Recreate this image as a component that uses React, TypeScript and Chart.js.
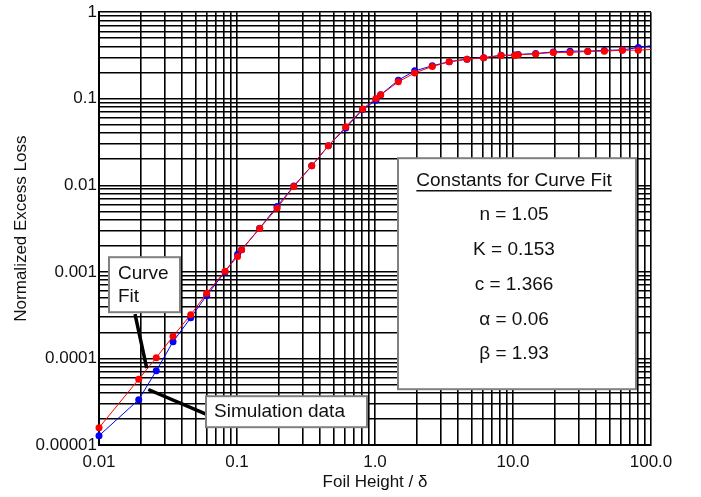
import React, { useEffect, useRef } from 'react';
import { Chart, registerables } from 'chart.js';

Chart.register(...registerables);

// ---- Data ----
const foilHeight = [
  0.01, 0.0194, 0.026, 0.0344, 0.0462, 0.0603, 0.0819, 0.101, 0.108, 0.146, 0.195,
  0.258, 0.348, 0.459, 0.614, 0.814, 1.016, 1.099, 1.475, 1.94, 2.6, 3.45, 4.64,
  6.13, 8.19, 10.3, 10.9, 14.6, 19.6, 25.9, 34.8, 45.9, 62, 80.9, 108,
];
const curveFit = [
  1.58e-5, 5.74e-5, 1.02e-4, 1.8e-4, 3.2e-4, 5.65e-4, 1.02e-3, 1.51e-3, 1.8e-3, 3.18e-3, 5.45e-3,
  9.7e-3, 0.0168, 0.0286, 0.0474, 0.0764, 0.1007, 0.111, 0.157, 0.199, 0.236, 0.267, 0.287,
  0.297, 0.316, 0.316, 0.322, 0.33, 0.343, 0.343, 0.352, 0.355, 0.364, 0.364, 0.374,
];
const simulation = [
  1.28e-5, 3.34e-5, 7.2e-5, 1.56e-4, 2.95e-4, 5.35e-4, 1.0e-3, 1.6e-3, 1.8e-3, 3.2e-3, 5.7e-3,
  9.8e-3, 0.0168, 0.0286, 0.046, 0.075, 0.096, 0.111, 0.164, 0.21, 0.24, 0.268, 0.287,
  0.298, 0.318, 0.32, 0.325, 0.333, 0.348, 0.355, 0.355, 0.362, 0.367, 0.39, 0.418,
];

const xTickValues = [0.01, 0.1, 1, 10, 100];
const xTickLabels = ['0.01', '0.1', '1.0', '10.0', '100.0'];
const yTickValues = [0.00001, 0.0001, 0.001, 0.01, 0.1, 1];
const yTickLabels = ['0.00001', '0.0001', '0.001', '0.01', '0.1', '1'];

const xTitle = 'Foil Height / δ';
const yTitle = 'Normalized Excess Loss';
const constantsTitle = 'Constants for Curve Fit';
const constantsLines = ['n = 1.05', 'K = 0.153', 'c = 1.366', 'α = 0.06', 'β = 1.93'];
const curveFitLabel = ['Curve', 'Fit'];
const simulationLabel = 'Simulation data';

const FONT = '"Liberation Sans", Arial, Helvetica, sans-serif';
const RED = '#ff0000';
const BLUE = '#0000ff';

function logGridTicks(majors: number[]) {
  const out: { value: number }[] = [];
  for (let i = 0; i < majors.length - 1; i++) {
    for (let k = 1; k <= 9; k++) out.push({ value: majors[i] * k });
  }
  out.push({ value: majors[majors.length - 1] });
  return out;
}

function labelFor(value: number, majors: number[], labels: string[]) {
  for (let i = 0; i < majors.length; i++) {
    if (Math.abs(Math.log10(value) - Math.log10(majors[i])) < 1e-6) return labels[i];
  }
  return '';
}

const annotationPlugin = {
  id: 'annotations',
  afterDraw(chart: any) {
    const { ctx, chartArea } = chart;
    const L = chartArea.left;
    const T = chartArea.top;
    ctx.save();

    // callout lines
    ctx.strokeStyle = '#000';
    ctx.lineWidth = 3.5;
    ctx.lineCap = 'butt';
    ctx.beginPath();
    ctx.moveTo(L + 36, T + 302);
    ctx.lineTo(L + 47.7, T + 356);
    ctx.moveTo(L + 49.3, T + 377.3);
    ctx.lineTo(L + 107, T + 402);
    ctx.stroke();

    const box = (x: number, y: number, w: number, h: number) => {
      ctx.fillStyle = '#fff';
      ctx.fillRect(L + x, T + y, w, h);
      ctx.strokeStyle = '#808080';
      ctx.lineWidth = 2;
      ctx.strokeRect(L + x, T + y, w, h);
    };

    ctx.font = `19px ${FONT}`;
    ctx.textBaseline = 'middle';

    // Curve Fit box
    box(10, 245, 71, 55);
    ctx.fillStyle = '#111';
    ctx.textAlign = 'left';
    ctx.fillText(curveFitLabel[0], L + 19, T + 262);
    ctx.fillText(curveFitLabel[1], L + 19, T + 285);

    // Simulation data box
    box(107, 384, 161, 31);
    ctx.fillStyle = '#111';
    ctx.fillText(simulationLabel, L + 115, T + 400);

    // Constants box
    box(299, 146, 238, 231);
    ctx.fillStyle = '#111';
    ctx.textAlign = 'center';
    const cx = L + 415;
    ctx.fillText(constantsTitle, cx, T + 169);
    const tw = ctx.measureText(constantsTitle).width;
    ctx.strokeStyle = '#111';
    ctx.lineWidth = 1.5;
    ctx.beginPath();
    ctx.moveTo(cx - tw / 2, T + 178.5);
    ctx.lineTo(cx + tw / 2, T + 178.5);
    ctx.stroke();
    const ys = [203, 238, 273, 308, 342];
    constantsLines.forEach((s, i) => ctx.fillText(s, cx, T + ys[i]));

    ctx.restore();
  },
};

export default function App() {
  const ref = useRef<HTMLCanvasElement | null>(null);

  useEffect(() => {
    if (!ref.current) return;
    const chart = new Chart(ref.current, {
      type: 'scatter',
      data: {
        datasets: [
          {
            label: 'Curve Fit',
            data: foilHeight.map((x, i) => ({ x, y: curveFit[i] })),
            borderColor: RED,
            backgroundColor: RED,
            borderWidth: 1,
            pointRadius: 3.5,
            pointBorderWidth: 0,
            pointHoverRadius: 3.5,
            showLine: true,
            clip: { left: 6, top: 0, right: 0, bottom: 6 } as any,
          },
          {
            label: 'Simulation data',
            data: foilHeight.map((x, i) => ({ x, y: simulation[i] })),
            borderColor: BLUE,
            backgroundColor: BLUE,
            borderWidth: 1,
            pointRadius: 3.5,
            pointBorderWidth: 0,
            pointHoverRadius: 3.5,
            showLine: true,
            clip: { left: 6, top: 0, right: 0, bottom: 6 } as any,
          },
        ],
      },
      options: {
        responsive: false,
        animation: false,
        events: [],
        layout: { padding: { left: 0, top: 12, right: 50, bottom: 0 } },
        plugins: { legend: { display: false }, tooltip: { enabled: false } },
        scales: {
          x: {
            type: 'logarithmic',
            min: 0.01,
            max: 100,
            afterBuildTicks: (scale: any) => {
              scale.ticks = logGridTicks(xTickValues);
            },
            afterFit: (scale: any) => {
              scale.height = 52;
            },
            ticks: {
              autoSkip: false,
              maxRotation: 0,
              minRotation: 0,
              padding: 7,
              color: '#111',
              font: { family: FONT, size: 17 },
              callback: (v: any) => labelFor(Number(v), xTickValues, xTickLabels),
            },
            grid: { color: '#000', lineWidth: 1.6, drawTicks: false },
            border: { color: '#000', width: 2 },
            title: {
              display: true,
              text: xTitle,
              color: '#111',
              font: { family: FONT, size: 17 },
              padding: { top: 0, bottom: 4 },
            },
          },
          y: {
            type: 'logarithmic',
            min: 0.00001,
            max: 1,
            afterBuildTicks: (scale: any) => {
              scale.ticks = logGridTicks(yTickValues);
            },
            afterFit: (scale: any) => {
              scale.width = 99;
            },
            ticks: {
              autoSkip: false,
              padding: 2,
              color: '#111',
              font: { family: FONT, size: 17 },
              callback: (v: any) => labelFor(Number(v), yTickValues, yTickLabels),
            },
            grid: { color: '#000', lineWidth: 1.6, drawTicks: false },
            border: { color: '#000', width: 2 },
            title: {
              display: true,
              text: yTitle,
              color: '#111',
              font: { family: FONT, size: 17 },
              padding: { top: 11, bottom: 0 },
            },
          },
        },
      },
      plugins: [annotationPlugin],
    } as any);
    return () => chart.destroy();
  }, []);

  return (
    <div style={{ position: 'fixed', left: 0, top: 0, width: 701, height: 497, background: '#fff' }}>
      <canvas ref={ref} width={701} height={497} />
    </div>
  );
}
